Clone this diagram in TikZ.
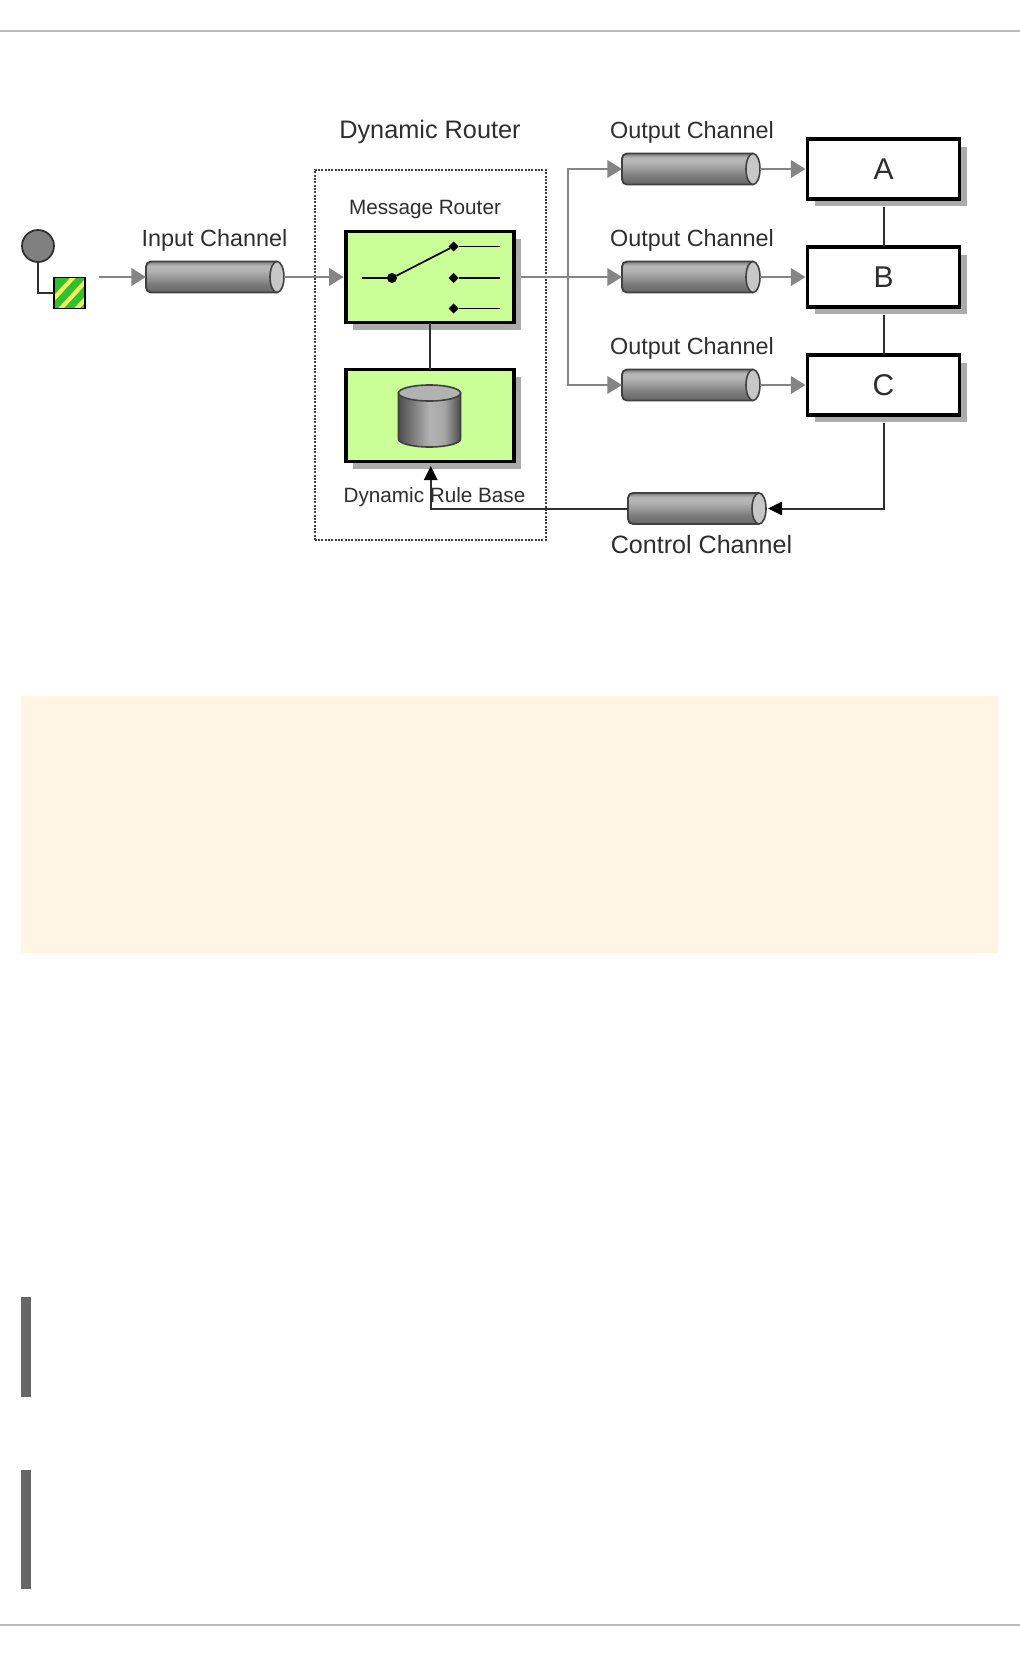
\documentclass[tikz,border=0pt]{standalone}
\usepackage{fontspec}
\setmainfont{Liberation Sans}
\usetikzlibrary{arrows.meta,calc,shapes.geometric,shadows}
\def\pxu{0.75pt}
\newcommand\fpx[1]{\fontsize{\the\dimexpr #1pt*3/4\relax}{\the\dimexpr #1pt\relax}\selectfont}
\definecolor{routergreen}{HTML}{C9FF96}
\definecolor{shadowgray}{HTML}{ABABAB}
\definecolor{flowgray}{HTML}{858585}
\definecolor{inkgray}{HTML}{2E2E2E}
\definecolor{notecream}{HTML}{FEF6E3}
\definecolor{barclr}{HTML}{666666}
\definecolor{rulegray}{HTML}{BBBBBB}
\definecolor{msggreen}{HTML}{30C030}
\definecolor{msgyellow}{HTML}{F0F060}
\pgfdeclareverticalshading{chanshade}{100bp}{
  color(0bp)=(black!60); color(25bp)=(black!60); color(38bp)=(black!52); color(60bp)=(black!30);
  color(68bp)=(black!28); color(75bp)=(black!50); color(100bp)=(black!50)}
\pgfdeclarehorizontalshading{cylshade}{100bp}{
  color(0bp)=(black!70); color(25bp)=(black!70); color(50bp)=(black!30); color(62bp)=(black!35); color(75bp)=(black!70); color(100bp)=(black!70)}
\tikzset{
  lbl/.style={text=inkgray,inner sep=0pt,outer sep=0pt},
  sysbox/.style={draw=black,line width=2.8pt,fill=white,inner sep=0pt,outer sep=0pt,text=inkgray,
    minimum width=152*\pxu,minimum height=59.5*\pxu,
    general shadow={fill=shadowgray,shadow xshift=7.3*\pxu,shadow yshift=-7.5*\pxu}},
  greenbox/.style={sysbox,fill=routergreen,minimum width=168*\pxu},
  chanframe/.style={inner sep=0pt,outer sep=0pt,minimum width=138*\pxu,minimum height=31*\pxu},
  chanfill/.style={draw=black!75,line width=1.4pt,shading=chanshade,rounded corners=5*\pxu},
  chanend/.style={ellipse,draw=black!75,line width=1.2pt,fill=black!22,inner sep=0pt,outer sep=0pt,
    minimum width=14*\pxu,minimum height=31*\pxu},
  flow/.style={draw=flowgray,line width=2.2pt,-{Triangle[length=11pt,width=13pt]}},
  flowbox/.style={flow,shorten >=1.5pt},
  flowbranch/.style={draw=flowgray,line width=2.2pt},
  ctrl/.style={draw=inkgray,line width=1.5pt},
  ctrlarrow/.style={ctrl,-{Triangle[length=10.5pt,width=10pt,color=black]}},
  swline/.style={draw=black,line width=1.3pt},
  swdot/.style={circle,fill=black,inner sep=0pt,outer sep=0pt,minimum size=10*\pxu},
  swpin/.style={diamond,fill=black,inner sep=0pt,outer sep=0pt,minimum size=10*\pxu},
}
\newcommand\channel[3]{%
  \node[chanframe] (#1) at (#2,#3) {};
  \draw[chanfill] ($(#1.north east)+(-7,0)$) -- (#1.north west) -- (#1.south west) -- ($(#1.south east)+(-7,0)$);
  \node[chanend] (#1end) at ($(#1.east)+(-7,0)$) {};
}
\begin{document}
\begin{tikzpicture}[x=0.75pt,y=-0.75pt]
\useasboundingbox (0,0) rectangle (1020,1656);
\fill[white] (0,0) rectangle (1020,1656);
% page furniture
\fill[rulegray] (0,30) rectangle (1020,32);
\fill[rulegray] (0,1624) rectangle (1020,1626);
\fill[notecream] (21,696) rectangle (998,953);
\fill[barclr] (21,1297) rectangle (31,1397);
\fill[barclr] (21,1470) rectangle (31,1589);
% dynamic router frame
\node[draw=black!75,line width=1.5pt,densely dotted,inner sep=0pt,outer sep=0pt,minimum width=231*\pxu,minimum height=370*\pxu] (frame) at (430,355) {};
\node[lbl,font=\fpx{25.3}] (dyn) at (430,132) {Dynamic Router};
% event source
\node[circle,draw=inkgray,line width=1.3pt,fill=black!50,inner sep=0pt,outer sep=0pt,minimum size=32*\pxu] (src) at (38,246) {};
\node[draw=black,line width=1.2pt,fill=msggreen,inner sep=0pt,outer sep=0pt,minimum size=31*\pxu,
  path picture={
    \foreach \o in {-12,4,20}
      \draw[msgyellow,line width=3.2pt] ($(path picture bounding box.south west)+(\o,3)$) -- ++(34,-37);
  }] (msg) at (69.5,293) {};
\draw[ctrl] (src.south) |- (msg.west);
% channels
\node[lbl,font=\fpx{23.4}] (inlbl) at (214.5,240) {Input Channel};
\channel{inch}{215}{277}
\node[lbl,font=\fpx{23.4}] (o1lbl) at (692,132.5) {Output Channel};
\node[lbl,font=\fpx{23.4}] (o2lbl) at (692,240) {Output Channel};
\node[lbl,font=\fpx{23.4}] (o3lbl) at (692,348) {Output Channel};
\channel{oa}{691}{169}
\channel{ob}{691}{277}
\channel{oc}{691}{385}
\channel{cc}{697}{508.5}
\node[lbl,font=\fpx{25.1}] (cclbl) at (701.5,545) {Control Channel};
% router
\node[greenbox,minimum height=91*\pxu] (router) at (429.7,277) {};
\node[greenbox,minimum height=92*\pxu] (rules) at (429.7,415.5) {};
\coordinate (routerport) at (521,277);
\draw[ctrl] (router.south) -- (rules.north);
\node[lbl,font=\fpx{20.7}] (mr) at (425,210) {Message Router};
\node[lbl,font=\fpx{20.7}] (drb) at (434.5,497) {Dynamic Rule Base};
% switch
\node[swdot] (sw) at (392,278) {};
\node[swpin] (p1) at (453.5,246.5) {};
\node[swpin] (p2) at (453.5,278) {};
\node[swpin] (p3) at (453.5,308.5) {};
\coordinate (swin) at (361.5,278);
\coordinate (q1) at (500,246.5);
\coordinate (q2) at (500,278);
\coordinate (q3) at (500,308.5);
\draw[swline] (swin) -- (sw);
\draw[swline] (sw) -- (p1);
\draw[swline] (p1) -- (q1);
\draw[swline] (p2) -- (q2);
\draw[swline] (p3) -- (q3);
% cylinder
\node[inner sep=0pt,outer sep=0pt,minimum width=62*\pxu,minimum height=62*\pxu] (cyl) at (429.5,416) {};
\draw[draw=black!75,line width=1.2pt,shading=cylshade]
  ($(cyl.north west)+(0,8)$) -- ($(cyl.south west)+(0,-8)$) arc[start angle=180,end angle=360,x radius=31,y radius=-8] -- ($(cyl.north east)+(0,8)$) -- cycle;
\node[ellipse,draw=black!75,line width=1.2pt,fill=black!30,inner sep=0pt,outer sep=0pt,minimum width=62*\pxu,minimum height=16*\pxu] (cyltop) at ($(cyl.north)+(0,8)$) {};
% boxes
\node[sysbox,font=\fpx{30}] (A) at (883.5,169) {A};
\node[sysbox,font=\fpx{30}] (B) at (883.5,277) {B};
\node[sysbox,font=\fpx{30}] (C) at (883.5,385) {C};
\coordinate (Aunder) at ($(A.south)+(0,8)$);
\coordinate (Bunder) at ($(B.south)+(0,8)$);
\coordinate (Cunder) at ($(C.south)+(0,8)$);
\draw[ctrl] (Aunder) -- (B.north);
\draw[ctrl] (Bunder) -- (C.north);
% flows
\coordinate (start) at (99,277);
\coordinate (junction) at (568,277);
\draw[flow] (start) -- (inch.west);
\draw[flowbox] (inchend.east) -- (router.west);
\draw[flowbranch] (routerport) -- (junction);
\draw[flow] (junction) -- (ob.west);
\draw[flow] (junction) |- (oa.west);
\draw[flow] (junction) |- (oc.west);
\draw[flowbox] (oaend.east) -- (A.west);
\draw[flowbox] (obend.east) -- (B.west);
\draw[flowbox] (ocend.east) -- (C.west);
% control loop
\coordinate (rtip) at (430.7,466);
\coordinate (ccin) at (768,508.5);
\draw[ctrlarrow] (Cunder) |- (ccin);
\draw[ctrlarrow] (cc.west) -| (rtip);
\end{tikzpicture}
\end{document}
